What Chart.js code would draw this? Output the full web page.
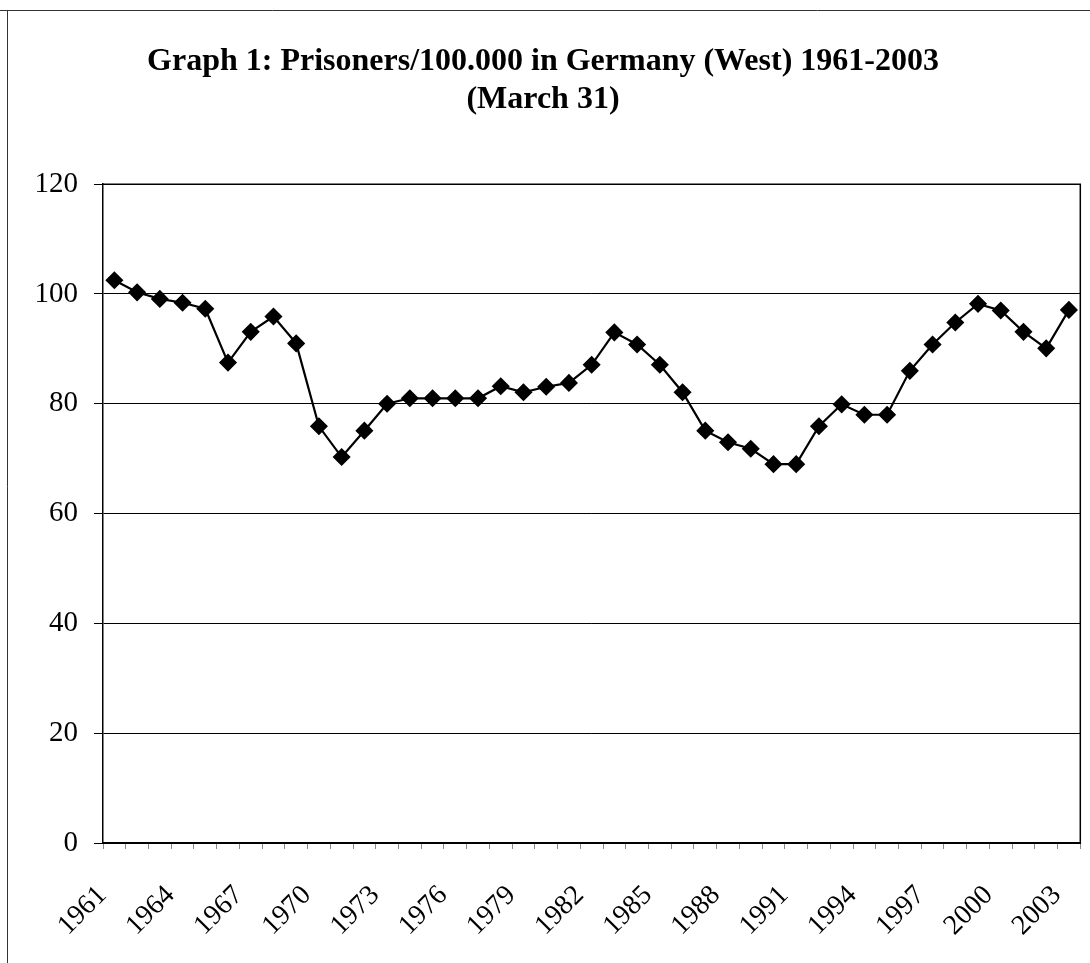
<!DOCTYPE html>
<html>
<head>
<meta charset="utf-8">
<script src="https://cdn.jsdelivr.net/npm/chart.js@4.4.0/dist/chart.umd.min.js"></script>
<style>
  html, body { margin: 0; padding: 0; background: #fff; }
  #wrap { width: 1090px; height: 963px; }
</style>
</head>
<body>
<div id="wrap"><canvas id="prisonChart" width="1090" height="963"></canvas></div>
<script>
// Prisoners per 100.000 inhabitants, West Germany, 31 March of each year
const years = [
    1961, 1962, 1963, 1964, 1965, 1966, 1967, 1968, 1969, 1970,
    1971, 1972, 1973, 1974, 1975, 1976, 1977, 1978, 1979, 1980,
    1981, 1982, 1983, 1984, 1985, 1986, 1987, 1988, 1989, 1990,
    1991, 1992, 1993, 1994, 1995, 1996, 1997, 1998, 1999, 2000,
    2001, 2002, 2003
];
const prisoners = [
    102.5, 100.3, 99.1, 98.4, 97.3, 87.5, 93.1, 95.9, 91.0, 75.9,
    70.3, 75.1, 80.0, 81.0, 81.0, 81.0, 81.0, 83.2, 82.1, 83.1,
    83.8, 87.1, 93.0, 90.8, 87.1, 82.1, 75.1, 73.0, 71.8, 69.0,
    69.0, 75.9, 79.9, 78.0, 78.0, 86.0, 90.8, 94.8, 98.2, 97.0,
    93.1, 90.1, 97.1
];
const yTicks = [0, 20, 40, 60, 80, 100, 120];
const titleLines = ['Graph 1: Prisoners/100.000 in Germany (West) 1961-2003', '(March 31)'];

const serif = '"Liberation Serif", "Times New Roman", serif';

// page frame + box round the plot area
const framePlugin = {
    id: 'frame',
    beforeDraw(chart) {
        const ctx = chart.ctx;
        ctx.save();
        ctx.strokeStyle = '#333';
        ctx.lineWidth = 1;
        ctx.beginPath();
        ctx.moveTo(0, 10.5);
        ctx.lineTo(chart.width, 10.5);
        ctx.moveTo(7.5, 10.5);
        ctx.lineTo(7.5, chart.height);
        ctx.stroke();
        ctx.restore();
    },
    afterDatasetsDraw(chart) {
        const a = chart.chartArea;
        const ctx = chart.ctx;
        ctx.save();
        ctx.strokeStyle = '#000';
        ctx.lineWidth = 1.5;
        ctx.beginPath();
        ctx.moveTo(a.left, a.top);
        ctx.lineTo(a.right, a.top);
        ctx.lineTo(a.right, a.bottom);
        ctx.stroke();
        ctx.restore();
    }
};

new Chart(document.getElementById('prisonChart'), {
    type: 'line',
    data: {
        labels: years,
        datasets: [{
            label: 'Prisoners/100.000',
            data: prisoners,
            borderColor: '#000',
            backgroundColor: '#000',
            borderWidth: 2.2,
            pointStyle: 'rectRot',
            pointRadius: 7.5,
            pointHoverRadius: 7.5,
            tension: 0
        }]
    },
    options: {
        responsive: false,
        animation: false,
        layout: { padding: { left: 0, right: 4, top: 0, bottom: 0 } },
        plugins: {
            legend: { display: false },
            tooltip: { enabled: false },
            title: {
                display: true,
                text: titleLines,
                color: '#000',
                font: { family: serif, size: 32, weight: 'bold', lineHeight: 1.19 },
                padding: { top: 43, bottom: 65 }
            }
        },
        scales: {
            x: {
                offset: true,
                grid: { drawOnChartArea: false, drawTicks: true, tickLength: 6, offset: true, color: '#888' },
                border: { color: '#000', width: 2 },
                ticks: {
                    autoSkip: false,
                    maxRotation: 45,
                    minRotation: 45,
                    padding: 30,
                    labelOffset: -12,
                    color: '#000',
                    font: { family: serif, size: 28 },
                    callback: function (value, index) {
                        return index % 3 === 0 ? years[index] : '';
                    }
                },
                afterFit: (s) => {
                    s.height = 120;
                    s.paddingLeft = 0;
                    s.paddingRight = 0;
                }
            },
            y: {
                min: 0,
                max: 120,
                afterBuildTicks: (s) => { s.ticks = yTicks.map(v => ({ value: v })); },
                grid: { color: '#000', lineWidth: 1, tickLength: 9 },
                border: { color: '#000', width: 1.5 },
                ticks: {
                    padding: 16,
                    color: '#000',
                    font: { family: serif, size: 29 }
                },
                afterFit: (s) => {
                    s.width = 103;
                    s.paddingTop = 0;
                    s.paddingBottom = 0;
                }
            }
        }
    },
    plugins: [framePlugin]
});
</script>
</body>
</html>
